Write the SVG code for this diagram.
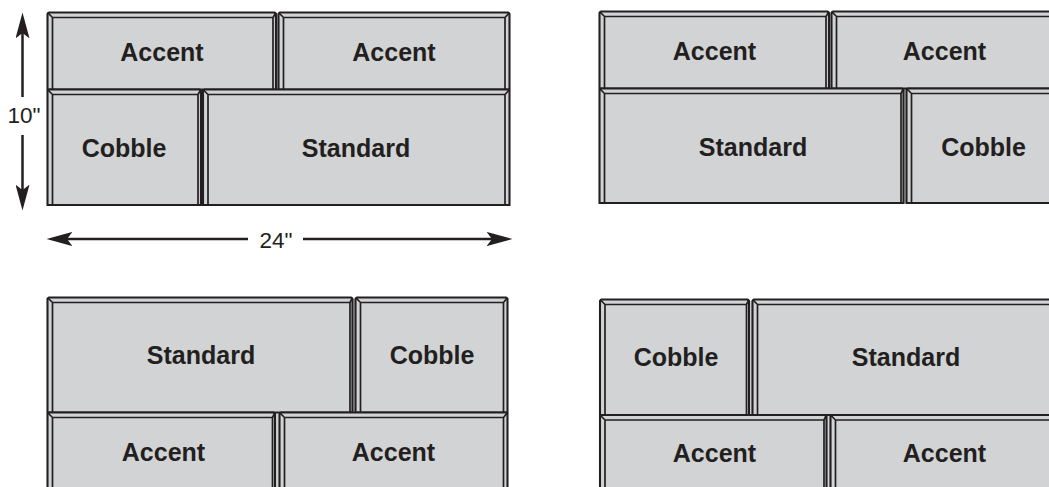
<svg xmlns="http://www.w3.org/2000/svg" width="1049" height="487" viewBox="0 0 1049 487">
<style>
.bg{fill:#d1d3d4}
.st{fill:#d1d3d4;stroke:#231f20;stroke-width:2.1}
.in{fill:none;stroke:#231f20;stroke-width:1.7}
.lbl{font-family:"Liberation Sans",Arial,Helvetica,sans-serif;font-weight:bold;font-size:25px;fill:#231f20;text-anchor:middle}
.dim{font-family:"Liberation Sans",Arial,Helvetica,sans-serif;font-size:22.5px;fill:#231f20;text-anchor:middle}
.dl{stroke:#231f20;stroke-width:2.5;fill:none;marker-end:url(#ah)}
</style>
<defs>
<marker id="ah" markerUnits="userSpaceOnUse" markerWidth="26" markerHeight="14" viewBox="0 0 24 13" refX="5" refY="6.5" orient="auto">
<path d="M0 0 L24 6.5 L0 13 L5 6.5 Z" fill="#231f20"/>
</marker>
</defs>
<rect fill="#ffffff" x="0" y="0" width="1049" height="487"/>

<g id="block-top-left">
<rect class="bg" x="47.5" y="14" width="462" height="191"/>
<g id="tl-accent-1">
<path class="st" d="M47.5 89.5 V14 L49 12.5 H274.5 L276 14 V89.5 Z"/>
<path class="in" d="M52.5 89.5 V17.5 H273 V89.5 M47.5 12.5 L52.5 17.5 M276 12.5 L273 17.5"/>
<text class="lbl" x="162" y="60.5">Accent</text>
</g>
<g id="tl-accent-2">
<path class="st" d="M278.5 89.5 V14 L280 12.5 H508 L509.5 14 V89.5 Z"/>
<path class="in" d="M283.5 89.5 V17.5 H505 V89.5 M278.5 12.5 L283.5 17.5 M509.5 12.5 L505 17.5"/>
<text class="lbl" x="394" y="60.5">Accent</text>
</g>
<g id="tl-cobble">
<path class="st" d="M47.5 205 V91 L49 89.5 H199.5 L201 91 V205 Z"/>
<path class="in" d="M52.5 205 V94.5 H198 V205 M47.5 89.5 L52.5 94.5 M201 89.5 L198 94.5"/>
<text class="lbl" x="124" y="156.5">Cobble</text>
</g>
<g id="tl-standard">
<path class="st" d="M203 205 V91 L204.5 89.5 H508 L509.5 91 V205 Z"/>
<path class="in" d="M208 205 V94.5 H505 V205 M203 89.5 L208 94.5 M509.5 89.5 L505 94.5"/>
<text class="lbl" x="356" y="156.5">Standard</text>
</g>
</g>

<g id="block-top-right">
<rect class="bg" x="599.5" y="13" width="460" height="190"/>
<g id="tr-accent-1">
<path class="st" d="M599.5 88.5 V13 L601 11.5 H827.5 L829 13 V88.5 Z"/>
<path class="in" d="M604.5 88.5 V16.5 H826 V88.5 M599.5 11.5 L604.5 16.5 M829 11.5 L826 16.5"/>
<text class="lbl" x="714.5" y="59.5">Accent</text>
</g>
<g id="tr-accent-2">
<path class="st" d="M831.5 88.5 V13 L833 11.5 H1062 V88.5 Z"/>
<path class="in" d="M836.5 88.5 V16.5 H1062 M831.5 11.5 L836.5 16.5"/>
<text class="lbl" x="944.5" y="59.5">Accent</text>
</g>
<g id="tr-standard">
<path class="st" d="M599.5 203 V90 L601 88.5 H902 L903.5 90 V203 Z"/>
<path class="in" d="M604.5 203 V93.5 H901 V203 M599.5 88.5 L604.5 93.5 M903.5 88.5 L901 93.5"/>
<text class="lbl" x="753" y="155.5">Standard</text>
</g>
<g id="tr-cobble">
<path class="st" d="M906.5 203 V90 L908 88.5 H1062 V203 Z"/>
<path class="in" d="M911.5 203 V93.5 H1062 M906.5 88.5 L911.5 93.5"/>
<text class="lbl" x="983.5" y="155.5">Cobble</text>
</g>
</g>

<g id="block-bottom-left">
<rect class="bg" x="47.5" y="299" width="460" height="200"/>
<g id="bl-standard">
<path class="st" d="M47.5 412.5 V299 L49 297.5 H351 L352.5 299 V412.5 Z"/>
<path class="in" d="M52.5 412.5 V302.5 H350 V412.5 M47.5 297.5 L52.5 302.5 M352.5 297.5 L350 302.5"/>
<text class="lbl" x="201" y="364">Standard</text>
</g>
<g id="bl-cobble">
<path class="st" d="M355.5 412.5 V299 L357 297.5 H506 L507.5 299 V412.5 Z"/>
<path class="in" d="M360.5 412.5 V302.5 H503.5 V412.5 M355.5 297.5 L360.5 302.5 M507.5 297.5 L503.5 302.5"/>
<text class="lbl" x="432" y="364">Cobble</text>
</g>
<g id="bl-accent-1">
<path class="st" d="M47.5 500 V414 L49 412.5 H273.5 L275 414 V500 Z"/>
<path class="in" d="M52.5 500 V417.5 H272.5 V500 M47.5 412.5 L52.5 417.5 M275 412.5 L272.5 417.5"/>
<text class="lbl" x="163.5" y="461">Accent</text>
</g>
<g id="bl-accent-2">
<path class="st" d="M279.5 500 V414 L281 412.5 H506 L507.5 414 V500 Z"/>
<path class="in" d="M284.5 500 V417.5 H503.5 V500 M279.5 412.5 L284.5 417.5 M507.5 412.5 L503.5 417.5"/>
<text class="lbl" x="393.5" y="461">Accent</text>
</g>
</g>

<g id="block-bottom-right">
<rect class="bg" x="600" y="301" width="462" height="200"/>
<g id="br-cobble">
<path class="st" d="M600 415 V301 L601.5 299.5 H747.5 L749 301 V415 Z"/>
<path class="in" d="M605 415 V304.5 H746.5 V415 M600 299.5 L605 304.5 M749 299.5 L746.5 304.5"/>
<text class="lbl" x="676" y="366">Cobble</text>
</g>
<g id="br-standard">
<path class="st" d="M752.5 415 V301 L754 299.5 H1062 V415 Z"/>
<path class="in" d="M757.5 415 V304.5 H1062 M752.5 299.5 L757.5 304.5"/>
<text class="lbl" x="906" y="366">Standard</text>
</g>
<g id="br-accent-1">
<path class="st" d="M600 500 V416.5 L601.5 415 H825 L826.5 416.5 V500 Z"/>
<path class="in" d="M605 500 V420 H824 V500 M600 415 L605 420 M826.5 415 L824 420"/>
<text class="lbl" x="714.5" y="462">Accent</text>
</g>
<g id="br-accent-2">
<path class="st" d="M830.5 500 V416.5 L832 415 H1062 V500 Z"/>
<path class="in" d="M835.5 500 V420 H1062 M830.5 415 L835.5 420"/>
<text class="lbl" x="944.5" y="462">Accent</text>
</g>
</g>

<g id="dimensions">
<line class="dl" x1="22.5" y1="97" x2="22.5" y2="33"/>
<line class="dl" x1="22.5" y1="135" x2="22.5" y2="190"/>
<line class="dl" x1="248" y1="239" x2="67" y2="239"/>
<line class="dl" x1="303" y1="239" x2="492" y2="239"/>
<text class="dim" x="24" y="123">10"</text>
<text class="dim" x="276" y="247.5">24"</text>
</g>
</svg>
